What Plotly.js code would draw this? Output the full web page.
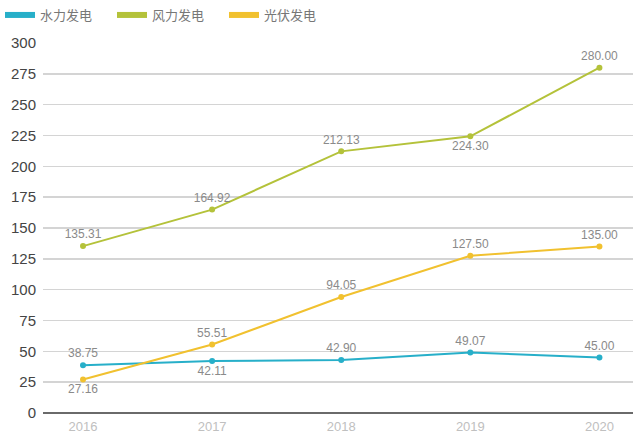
<!DOCTYPE html>
<html><head><meta charset="utf-8">
<script src="https://cdn.plot.ly/plotly-3.0.1.min.js"></script>
<style>body{margin:0;background:#fff}#c{width:640px;height:438px}</style>
</head><body><div id="c"></div>
<script>
const years = ['2016','2017','2018','2019','2020'];
const hydro = [38.75, 42.11, 42.90, 49.07, 45.00];
const wind = [135.31, 164.92, 212.13, 224.30, 280.00];
const solar = [27.16, 55.51, 94.05, 127.50, 135.00];
const names = ['水力发电','风力发电','光伏发电'];
const hydroPos = ['top center','bottom center','top center','top center','top center'];
const windPos = ['top center','top center','top center','bottom center','top center'];
const solarPos = ['bottom center','top center','top center','top center','top center'];
const colors = ['#27afc9','#b4c23a','#f1c12f'];
function tr(name, y, pos, color){
  return {x: years, y: y, name: name, type:'scatter', mode:'lines+markers+text', showlegend:false,
    text: y.map(v=>v.toFixed(2)), textposition: pos,
    textfont:{size:12, color:'#8a8a8a', family:'Liberation Sans, Arial'},
    line:{color: color, width:2}, marker:{color: color, size:6}, cliponaxis:false};
}
function leg(name, color){
  return {x:[null], y:[null], name: name, type:'scatter', mode:'lines', showlegend:true,
    line:{color: color, width:6}};
}
const data = [tr(names[0], hydro, hydroPos, colors[0]), tr(names[1], wind, windPos, colors[1]), tr(names[2], solar, solarPos, colors[2]),
  leg(names[0], colors[0]), leg(names[1], colors[1]), leg(names[2], colors[2])];
const layout = {
  width:640, height:438, margin:{l:43, r:7, t:43, b:25},
  paper_bgcolor:'#fff', plot_bgcolor:'#fff',
  font:{family:'Noto Sans CJK SC, Liberation Sans, sans-serif'},
  showlegend:true,
  legend:{orientation:'h', xref:'container', yref:'container', x:0, xanchor:'left', y:1, yanchor:'top',
    font:{size:13, color:'#777'}, entrywidth:67, entrywidthmode:'pixels', traceorder:'normal'},
  xaxis:{type:'category', range:[-0.31, 4.26], showgrid:false, zeroline:false, showline:false, ticks:'',
    tickfont:{size:13, color:'#c0c0c0', family:'Liberation Sans, Arial'}, ticklabelstandoff:4, fixedrange:true},
  yaxis:{range:[0,300], dtick:25, showgrid:true, gridcolor:'#d4d4d4', gridwidth:1.5, zeroline:true, zerolinecolor:'#6a6a6a', zerolinewidth:2,
    showline:false, ticks:'', tickfont:{size:15, color:'#444', family:'Liberation Sans, Arial'}, ticklabelstandoff:6}
};
Plotly.newPlot('c', data, layout, {displayModeBar:false, staticPlot:true});
</script></body></html>
